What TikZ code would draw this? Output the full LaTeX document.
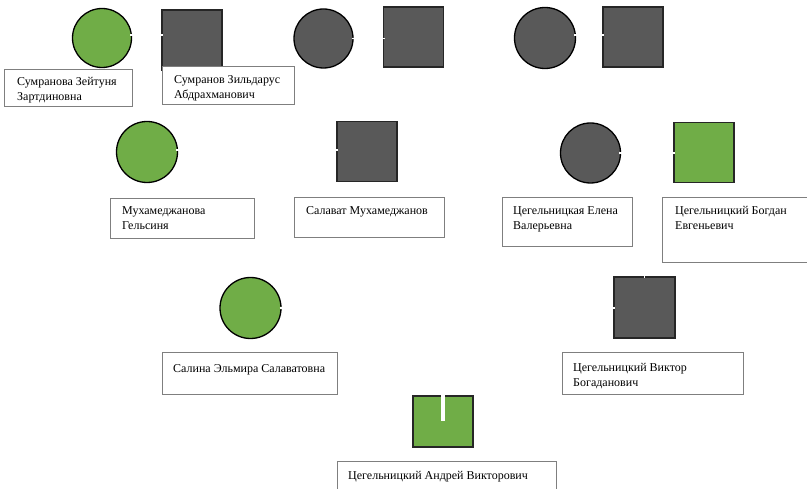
\documentclass[tikz,border=0pt]{standalone}
\usepackage{fontspec}
\setmainfont{Liberation Serif}
\definecolor{pgreen}{HTML}{70AD47}
\definecolor{pgray}{HTML}{595959}
\definecolor{boxline}{HTML}{7F7F7F}
\tikzset{
  fem/.style={circle, draw=black, line width=1.3pt, minimum size=59pt, inner sep=0pt},
  mal/.style={rectangle, draw=black!85, line width=1.1pt, minimum width=60pt, minimum height=60pt, inner sep=0pt},
  gfill/.style={fill=pgreen},
  dfill/.style={fill=pgray},
  lbox/.style={rectangle, draw=boxline, line width=0.8pt, fill=white, anchor=north west, inner sep=0pt},
  lbl/.style={anchor=north west, inner sep=0pt, align=left, font=\fontsize{12}{14.5}\selectfont},
  wline/.style={draw=white, line width=1.3pt, shorten <=-2pt, shorten >=-2pt}
}
\begin{document}
\begin{tikzpicture}[x=1pt,y=-1pt]
\useasboundingbox (0,0) rectangle (807,489);
% generation 1
\node[fem,gfill] (c1) at (102,38) {};
\node[mal,dfill] (s1) at (192,40) {};
\node[fem,dfill] (c2) at (323.5,38.5) {};
\node[mal,dfill] (s2) at (413.5,37) {};
\node[fem,dfill,minimum size=61pt] (c3) at (545,38) {};
\node[mal,dfill] (s3) at (633,37) {};
% generation 2
\node[fem,gfill,minimum size=61pt] (c4) at (147,152) {};
\node[mal,dfill] (s4) at (367,151.5) {};
\node[fem,dfill,minimum size=60pt] (c5) at (590.5,153) {};
\node[mal,gfill] (s5) at (704,152.5) {};
% generation 3
\node[fem,gfill,minimum size=61pt] (c6) at (250.5,308) {};
\node[mal,dfill,minimum width=61pt,minimum height=61pt] (s6) at (644.5,307.5) {};
% generation 4
\node[mal,gfill,minimum height=51pt] (s7) at (443,421.5) {};
% label boxes
\node[lbox,minimum width=128pt,minimum height=37pt] (b1) at (4,69) {};
\node[lbox,minimum width=132pt,minimum height=38pt] (b2) at (162,66) {};
\node[lbox,minimum width=144pt,minimum height=40pt] (b3) at (110,198) {};
\node[lbox,minimum width=150pt,minimum height=40pt] (b4) at (294,197) {};
\node[lbox,minimum width=130pt,minimum height=49pt] (b5) at (502,197) {};
\node[lbox,minimum width=200pt,minimum height=65pt] (b6) at (662,197) {};
\node[lbox,minimum width=175pt,minimum height=42pt] (b7) at (162,352) {};
\node[lbox,minimum width=181pt,minimum height=42pt] (b8) at (562,352) {};
\node[lbox,minimum width=219pt,minimum height=60pt] (b9) at (337,461) {};
% labels
\node[lbl] (t1) at ([xshift=13pt,yshift=-6.2pt]b1.north west) {\strut Сумранова Зейтуня\\Зартдиновна};
\node[lbl] (t2) at ([xshift=12pt,yshift=-7.2pt]b2.north west) {\strut Сумранов Зильдарус\\Абдрахманович};
\node[lbl] (t3) at ([xshift=12pt,yshift=-6.2pt]b3.north west) {\strut Мухамеджанова\\Гельсиня};
\node[lbl] (t4) at ([xshift=12pt,yshift=-7.2pt]b4.north west) {\strut Салават Мухамеджанов};
\node[lbl] (t5) at ([xshift=11pt,yshift=-7.2pt]b5.north west) {\strut Цегельницкая Елена\\Валерьевна};
\node[lbl] (t6) at ([xshift=13pt,yshift=-7.2pt]b6.north west) {\strut Цегельницкий Богдан\\Евгеньевич};
\node[lbl] (t7) at ([xshift=11pt,yshift=-10.2pt]b7.north west) {\strut Салина Эльмира Салаватовна};
\node[lbl] (t8) at ([xshift=11pt,yshift=-9.2pt]b8.north west) {\strut Цегельницкий Виктор\\Богаданович};
\node[lbl] (t9) at ([xshift=11pt,yshift=-8.2pt]b9.north west) {\strut Цегельницкий Андрей Викторович};
% white connectors
\draw[wline] ([yshift=3pt]c1.east) -- ([yshift=3pt]c1.east -| s1.west);
\draw[wline] (c2.east) -- (c2.east -| s2.west);
\draw[wline] ([yshift=3pt]c3.east) -- ([yshift=3pt]c3.east -| s3.west);
\draw[wline] ([yshift=2pt]c4.east) -- ([yshift=2pt]c4.east -| s4.west);
\draw[wline] (c5.east) -- (c5.east -| s5.west);
\draw[wline] (c6.east) -- (c6.east -| s6.west);
\coordinate (vtop) at (644.5,268);
\draw[wline] (vtop) -- (s6.north);
\draw[draw=white, line width=3.5pt, shorten <=-1.5pt] (s7.north) -- (s7.center);
\end{tikzpicture}
\end{document}
